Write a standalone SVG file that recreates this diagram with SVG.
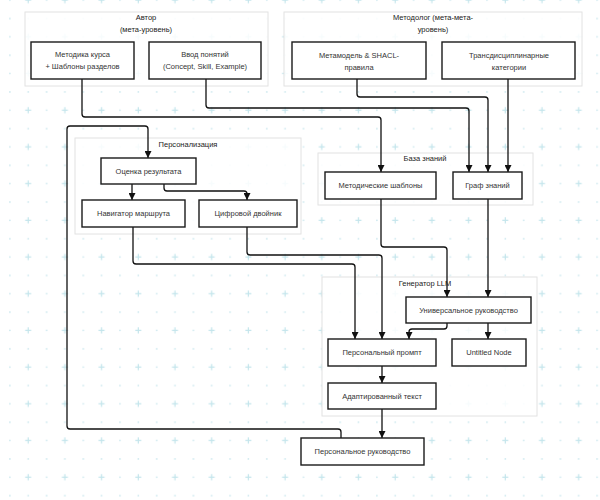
<svg xmlns="http://www.w3.org/2000/svg" width="600" height="500" viewBox="0 0 600 500">
<defs>
<pattern id="grid" x="9" y="17.6" width="36.7" height="36.7" patternUnits="userSpaceOnUse">
<circle cx="0.9" cy="0.9" r="0.9" fill="#cfe9ef"/>
<circle cx="19.2" cy="0.9" r="0.9" fill="#cfe9ef"/>
<circle cx="0.9" cy="19.2" r="0.9" fill="#cfe9ef"/>
<path d="M16.2 19.2H22.2M19.2 16.2V22.2" stroke="#c4e5ec" stroke-width="1.2"/>
</pattern>
<marker id="arr" markerWidth="7" markerHeight="7" refX="7" refY="3.5" orient="auto" markerUnits="userSpaceOnUse">
<path d="M0,0 L7,3.5 L0,7 z" fill="#111"/>
</marker>
<style>
.grp{fill:#ffffff;fill-opacity:0.85;stroke:#e2e2e2;stroke-width:1}
.nd{fill:#ffffff;stroke:#1a1a1a;stroke-width:1.4}
.t{font-family:"Liberation Sans",Arial,sans-serif;font-size:7.5px;fill:#333;text-anchor:middle}
.gt{font-family:"Liberation Sans",Arial,sans-serif;font-size:7.5px;fill:#222;text-anchor:middle}
.c{fill:none;stroke:#111;stroke-width:1.3;marker-end:url(#arr)}
.cn{fill:none;stroke:#111;stroke-width:1.3}
</style>
</defs>
<rect width="600" height="500" fill="#ffffff"/>
<rect width="600" height="500" fill="url(#grid)"/>

<g id="group-author">
<rect class="grp" x="25" y="12" width="243" height="74"/>
<text class="gt" x="146" y="20">Автор</text>
<text class="gt" x="146" y="32">(мета-уровень)</text>
</g>
<g id="group-methodologist">
<rect class="grp" x="284" y="12" width="298" height="74"/>
<text class="gt" x="433" y="20">Методолог (мета-мета-</text>
<text class="gt" x="433" y="32">уровень)</text>
</g>
<g id="group-personalization">
<rect class="grp" x="75" y="138" width="226" height="96"/>
<text class="gt" x="188" y="147">Персонализация</text>
</g>
<g id="group-kb">
<rect class="grp" x="318" y="153" width="215" height="52"/>
<text class="gt" x="425" y="161">База знаний</text>
</g>
<g id="group-llm">
<rect class="grp" x="322" y="277" width="215" height="139"/>
<text class="gt" x="425" y="286">Генератор LLM</text>
</g>

<g id="connectors">
<path class="c" d="M82 79V114Q82 117 85 117H378Q381 117 381 120V172"/>
<path class="c" d="M206 79V105Q206 108 209 108H466Q469 108 469 111V172"/>
<path class="c" d="M357 79V94Q357 97 360 97H485Q488 97 488 100V172"/>
<path class="c" d="M508 79V172"/>
<path class="c" d="M341 438V432Q341 429 338 429H70Q67 429 67 426V129Q67 126 70 126H145Q148 126 148 129V158"/>
<path class="c" d="M132 184V200"/>
<path class="c" d="M164 184V188Q164 191 167 191H244Q247 191 247 194V200"/>
<path class="c" d="M133 227V261Q133 264 136 264H352Q355 264 355 267V339"/>
<path class="c" d="M247 227V252Q247 255 250 255H379Q382 255 382 258V339"/>
<path class="c" d="M381 199V244Q381 247 384 247H444Q447 247 447 250V297"/>
<path class="c" d="M488 199V297"/>
<path class="c" d="M447 323V326Q447 329 444 329H412Q409 329 409 332V339"/>
<path class="c" d="M488 323V339"/>
<path class="c" d="M382 366V383"/>
<path class="c" d="M382 409V438"/>
</g>

<g id="node-metodika">
<rect class="nd" x="31" y="42" width="103" height="37"/>
<text class="t" x="82.5" y="57">Методика курса</text>
<text class="t" x="82.5" y="69">+ Шаблоны разделов</text>
</g>
<g id="node-vvod">
<rect class="nd" x="149" y="42" width="112" height="37"/>
<text class="t" x="205" y="57">Ввод понятий</text>
<text class="t" x="205" y="69">(Concept, Skill, Example)</text>
</g>
<g id="node-metamodel">
<rect class="nd" x="292" y="42" width="134" height="37"/>
<text class="t" x="359" y="58">Метамодель &amp; SHACL-</text>
<text class="t" x="359" y="70">правила</text>
</g>
<g id="node-trans">
<rect class="nd" x="442" y="42" width="133" height="37"/>
<text class="t" x="509" y="58">Трансдисциплинарные</text>
<text class="t" x="509" y="70">категории</text>
</g>
<g id="node-ocenka">
<rect class="nd" x="101" y="158" width="95" height="26"/>
<text class="t" x="148.5" y="173.7">Оценка результата</text>
</g>
<g id="node-navigator">
<rect class="nd" x="82" y="200" width="103" height="27"/>
<text class="t" x="133.5" y="216.2">Навигатор маршрута</text>
</g>
<g id="node-twin">
<rect class="nd" x="199" y="200" width="98" height="27"/>
<text class="t" x="248" y="216.2">Цифровой двойник</text>
</g>
<g id="node-templates">
<rect class="nd" x="325" y="172" width="111" height="27"/>
<text class="t" x="380.5" y="188.2">Методические шаблоны</text>
</g>
<g id="node-graph">
<rect class="nd" x="453" y="172" width="69" height="27"/>
<text class="t" x="487.5" y="188.2">Граф знаний</text>
</g>
<g id="node-universal">
<rect class="nd" x="406" y="297" width="125" height="26"/>
<text class="t" x="468.5" y="312.7">Универсальное руководство</text>
</g>
<g id="node-prompt">
<rect class="nd" x="328" y="339" width="108" height="27"/>
<text class="t" x="382" y="355.2">Персональный промпт</text>
</g>
<g id="node-untitled">
<rect class="nd" x="452" y="339" width="74" height="27"/>
<text class="t" x="489" y="355.2">Untitled Node</text>
</g>
<g id="node-adapted">
<rect class="nd" x="328" y="383" width="108" height="26"/>
<text class="t" x="382" y="398.7">Адаптированный текст</text>
</g>
<g id="node-personal-guide">
<rect class="nd" x="301" y="438" width="123" height="27"/>
<text class="t" x="362.5" y="454.2">Персональное руководство</text>
</g>
</svg>
